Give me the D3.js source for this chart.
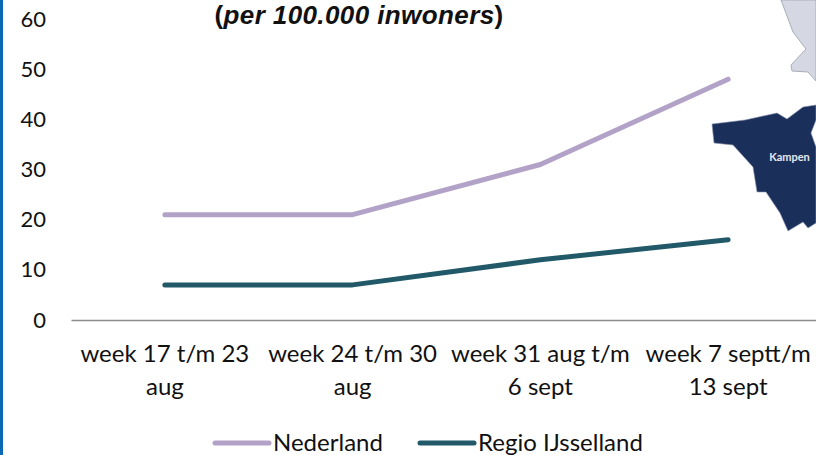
<!DOCTYPE html>
<html>
<head>
<meta charset="utf-8">
<script src="https://cdn.jsdelivr.net/npm/d3@7"></script>
<style>
html, body { margin: 0; padding: 0; background: #fff; overflow: hidden; }
text { font-family: Lato, sans-serif; fill: #111; }
</style>
</head>
<body>
<div id="chart"></div>
<script>
var categories = [
    ["week 17 t/m 23", "aug"],
    ["week 24 t/m 30", "aug"],
    ["week 31 aug t/m", "6 sept"],
    ["week 7 septt/m", "13 sept"]
];
var nederland = [21, 21, 31, 48];
var ijsselland = [7, 7, 12, 16];
var yTicks = [0, 10, 20, 30, 40, 50, 60];

// background map pieces
var kampenShape = [[712,124],[745,120],[777,113],[787,119],[803,107],[816,105],[816,120],[811,133],[816,147],[816,223],[808,228],[803,222],[788,231],[780,213],[766,192],[757,192],[753,167],[733,145],[714,143]];
var greyShape = [[781,0],[793,32],[806,49],[791,65],[792,71],[808,72],[816,81],[816,0]];

var width = 816,
    height = 455;

var svg = d3.select("#chart").append("svg")
    .attr("width", width)
    .attr("height", height)
    .style("display", "block");

var x = d3.scaleBand().domain(d3.range(categories.length)).range([71, 822]);
var y = d3.scaleLinear().domain([0, 60]).range([320, 19]);

// blue strip on the left
svg.append("rect").attr("width", 3).attr("height", height).attr("fill", "#0a69b5");

// map
var shape = d3.line();
svg.append("path").attr("d", shape(greyShape) + "Z")
    .attr("fill", "#d5d8e2").attr("stroke", "#a9adb8").attr("stroke-width", 1);
svg.append("path").attr("d", shape(kampenShape) + "Z")
    .attr("fill", "#1b2f5b").attr("stroke", "#8c96ae").attr("stroke-width", 0.6);
svg.append("text").attr("x", 789.5).attr("y", 161)
    .attr("text-anchor", "middle")
    .style("font-size", "11px").style("font-weight", 700).style("fill", "#e6e8ee")
    .text("Kampen");

// y axis
var yAxis = svg.append("g")
    .attr("transform", "translate(46,0)")
    .call(d3.axisLeft(y).tickValues(yTicks).tickSize(0).tickPadding(0));
yAxis.select(".domain").remove();
yAxis.selectAll("text")
    .style("font-family", "Lato, sans-serif")
    .style("font-size", "22px")
    .attr("fill", "#111");

// x axis
var xAxis = svg.append("g")
    .attr("transform", "translate(0,320)")
    .call(d3.axisBottom(x).tickSize(0).tickFormat(""));
xAxis.select(".domain").attr("stroke", "#8c8c8c").attr("stroke-width", 1.5);

var labels = svg.append("g").selectAll("text")
    .data(categories)
    .enter().append("text")
    .attr("text-anchor", "middle")
    .attr("y", 362)
    .style("font-size", "24px");
labels.selectAll("tspan")
    .data(function (d, i) { return d.map(function (s) { return { s: s, i: i }; }); })
    .enter().append("tspan")
    .attr("x", function (d) { return x(d.i) + x.bandwidth() / 2; })
    .attr("dy", function (d, j) { return j ? 33 : 0; })
    .text(function (d) { return d.s; });

// lines
var line = d3.line()
    .x(function (d, i) { return x(i) + x.bandwidth() / 2; })
    .y(function (d) { return y(d); });

var series = [
    { name: "Nederland", values: nederland, color: "#b3a2c7" },
    { name: "Regio IJsselland", values: ijsselland, color: "#215968" }
];

svg.selectAll(".line")
    .data(series)
    .enter().append("path")
    .attr("class", "line")
    .attr("fill", "none")
    .attr("stroke", function (d) { return d.color; })
    .attr("stroke-width", 5)
    .attr("stroke-linecap", "round")
    .attr("stroke-linejoin", "round")
    .attr("d", function (d) { return line(d.values); });

// legend
var legendX = [215, 420];
var legend = svg.selectAll(".legend")
    .data(series)
    .enter().append("g")
    .attr("class", "legend")
    .attr("transform", function (d, i) { return "translate(" + legendX[i] + ",443)"; });
legend.append("line")
    .attr("x2", 54)
    .attr("stroke", function (d) { return d.color; })
    .attr("stroke-width", 5)
    .attr("stroke-linecap", "round");
legend.append("text")
    .attr("x", 58)
    .attr("y", 8)
    .style("font-size", "24px")
    .text(function (d) { return d.name; });

// title, only the last line is in the frame
var title = svg.append("text")
    .attr("x", 359)
    .attr("y", 24)
    .attr("text-anchor", "middle")
    .style("font-family", "'Liberation Sans', sans-serif")
    .style("font-size", "26px")
    .style("letter-spacing", "0.4px")
    .style("font-weight", 700);
title.append("tspan").text("(");
title.append("tspan").style("font-style", "italic").text("per 100.000 inwoners");
title.append("tspan").text(")");
</script>
</body>
</html>
